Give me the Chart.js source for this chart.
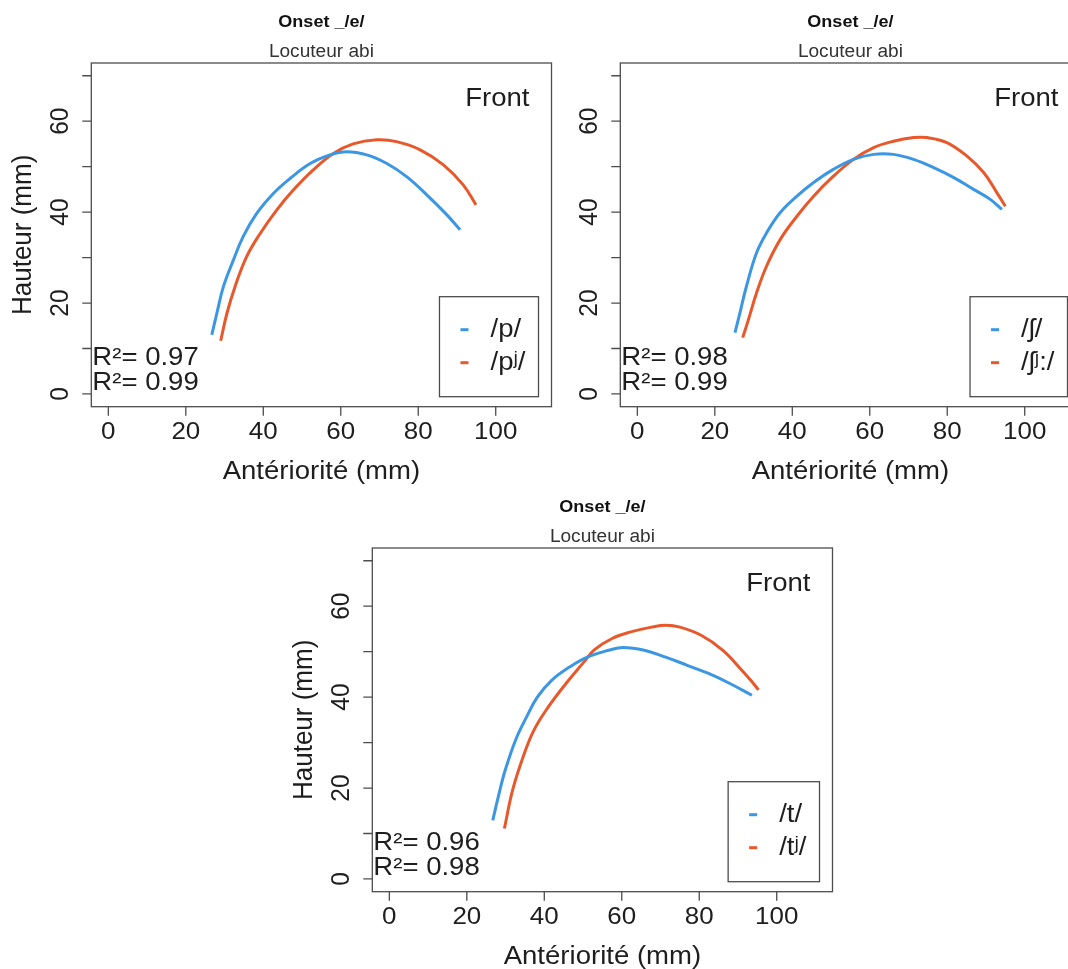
<!DOCTYPE html>
<html>
<head>
<meta charset="utf-8">
<title>Onset _/e/ - Locuteur abi</title>
<script src="https://cdn.jsdelivr.net/npm/chart.js@4.4.0/dist/chart.umd.min.js"></script>
<style>
  html, body { margin: 0; padding: 0; background: #fff; overflow: hidden; width: 1068px; height: 969px; }
  canvas { position: absolute; }
</style>
</head>
<body>
<canvas id="chartP" width="560" height="485" style="left:0;top:0"></canvas>
<canvas id="chartSh" width="560" height="485" style="left:529px;top:0"></canvas>
<canvas id="chartT" width="560" height="485" style="left:281px;top:485px"></canvas>
<script>
// texts + ticks
const titleText = 'Onset _/e/';
const subText = 'Locuteur abi';
const xTitle = 'Antériorité (mm)';
const yTitle = 'Hauteur (mm)';
const xTicks = [0, 20, 40, 60, 80, 100];
const yTicks = [0, 10, 20, 30, 40, 50, 60, 70];
const yLabels = [0, 20, 40, 60];

// /p/ vs /pʲ/
const pBlueX = [26.7, 28.0, 29.7, 32.3, 34.8, 38.3, 42.6, 46.9, 52.1, 57.2, 61.5, 66.7, 71.9, 77.0, 82.2, 87.4, 90.8];
const pBlueY = [13.0, 17.7, 23.6, 29.5, 34.6, 39.7, 44.1, 47.4, 50.7, 52.6, 53.3, 52.6, 50.7, 47.8, 43.8, 39.4, 36.1];
const pRedX = [29.0, 30.6, 32.7, 35.7, 39.2, 43.5, 47.8, 52.9, 58.1, 63.2, 69.3, 74.4, 80.5, 86.5, 91.6, 94.9];
const pRedY = [11.7, 17.7, 23.6, 30.2, 35.3, 40.5, 44.9, 49.3, 52.9, 55.0, 55.9, 55.5, 53.7, 50.4, 46.0, 41.6];

// /ʃ/ vs /ʃʲ:/
const shBlueX = [25.2, 26.5, 28.2, 30.8, 33.4, 36.9, 41.2, 45.5, 50.6, 55.8, 61.0, 66.1, 71.3, 76.5, 81.7, 86.8, 91.1, 94.1];
const shBlueY = [13.5, 17.9, 23.8, 31.1, 35.5, 39.9, 43.5, 46.5, 49.4, 51.6, 52.7, 52.7, 51.6, 49.8, 47.6, 45.0, 42.8, 40.6];
const shRedX = [27.2, 28.7, 30.8, 33.4, 36.9, 41.2, 45.5, 50.6, 55.8, 61.0, 66.1, 71.3, 74.8, 79.9, 85.1, 89.4, 92.8, 95.0];
const shRedY = [12.4, 16.4, 22.3, 28.2, 34.0, 39.1, 43.5, 47.9, 51.6, 54.2, 55.6, 56.4, 56.4, 55.3, 52.3, 48.7, 44.3, 41.3];

// /t/ vs /tʲ/
const tBlueX = [26.7, 28.1, 29.9, 32.7, 35.4, 38.2, 41.9, 46.5, 51.1, 56.6, 60.3, 65.8, 71.3, 76.9, 82.4, 87.9, 93.6];
const tBlueY = [12.9, 18.0, 23.9, 30.8, 35.6, 40.0, 43.7, 46.6, 48.8, 50.3, 50.9, 50.3, 48.8, 47.0, 45.2, 43.0, 40.4];
const tRedX = [29.7, 31.8, 34.5, 37.3, 41.0, 45.6, 50.2, 52.9, 57.5, 62.1, 67.7, 71.4, 75.0, 80.5, 86.1, 90.7, 93.4, 95.3];
const tRedY = [11.1, 19.5, 26.8, 32.7, 37.8, 43.0, 47.7, 50.4, 52.9, 54.3, 55.4, 55.8, 55.4, 53.6, 50.3, 46.2, 43.6, 41.6];

const blue = '#3b97e3';
const red = '#e8582a';
const FONT = '"Liberation Sans", Arial, "DejaVu Sans", sans-serif';
const SX = 1.06; // the source picture is a bit wider than tall

function txt(ctx, s, x, y, size, o) {
  o = o || {};
  ctx.save();
  ctx.translate(x, y);
  ctx.scale(SX, 1);
  if (o.rot) ctx.rotate(o.rot);
  ctx.font = (o.bold ? 'bold ' : '') + size + 'px ' + FONT;
  ctx.fillStyle = o.color || '#1e1e1e';
  ctx.textAlign = o.align || 'center';
  ctx.textBaseline = 'middle';
  ctx.fillText(s, 0, 0);
  ctx.restore();
}

const rPlot = {
  id: 'rplot',
  afterDraw(chart, args, o) {
    const ctx = chart.ctx, a = chart.chartArea;
    const xs = chart.scales.x, ys = chart.scales.y;
    ctx.save();
    ctx.strokeStyle = '#4d4d4d';
    ctx.lineWidth = 1.3;
    ctx.strokeRect(a.left, a.top, a.right - a.left, a.bottom - a.top);
    ctx.beginPath();
    xTicks.forEach(v => {
      const px = xs.getPixelForValue(v);
      ctx.moveTo(px, a.bottom); ctx.lineTo(px, a.bottom + 9);
    });
    yTicks.forEach(v => {
      const py = ys.getPixelForValue(v);
      ctx.moveTo(a.left, py); ctx.lineTo(a.left - 9, py);
    });
    ctx.stroke();

    xTicks.forEach(v => txt(ctx, String(v), xs.getPixelForValue(v), a.bottom + 26, 24.5));
    yLabels.forEach(v => txt(ctx, String(v), a.left - 30, ys.getPixelForValue(v), 24.5, { rot: -Math.PI / 2 }));

    const cx = (a.left + a.right) / 2;
    txt(ctx, xTitle, cx, a.bottom + 65, 26);
    if (o.yTitle) txt(ctx, yTitle, a.left - 68, (a.top + a.bottom) / 2, 26, { rot: -Math.PI / 2 });
    txt(ctx, titleText, cx, a.top - 40.5, 17, { bold: true, color: '#111' });
    txt(ctx, subText, cx, a.top - 11, 18, { color: '#333' });
    txt(ctx, 'Front', a.right - 22, a.top + 36, 26, { align: 'right' });

    o.r2.forEach((r, i) => txt(ctx, 'R²= ' + r, a.left + 1, a.bottom - 49 + i * 25, 26, { align: 'left' }));

    // legend box, bottom right
    ctx.font = '26px ' + FONT;
    const maxW = Math.max(...o.labels.map(s => ctx.measureText(s).width)) * SX;
    const right = a.right - 13, bottom = a.bottom - 10;
    const left = right - (51 + maxW + 13), top = bottom - 100;
    ctx.strokeStyle = '#4d4d4d';
    ctx.lineWidth = 1.3;
    ctx.strokeRect(left, top, right - left, bottom - top);
    [blue, red].forEach((c, i) => {
      const y = top + 33 + i * 33;
      ctx.fillStyle = c;
      ctx.fillRect(left + 21, y - 1.5, 8, 3);
      txt(ctx, o.labels[i], left + 51, y, 26, { align: 'left' });
    });
    ctx.restore();
  }
};

function pts(xs, ys) {
  return xs.map((x, i) => ({ x: x, y: ys[i] }));
}

function makeChart(id, bx, by, rx, ry, labels, r2, showY) {
  const ctx = document.getElementById(id).getContext('2d');
  return new Chart(ctx, {
    type: 'line',
    data: {
      datasets: [
        { label: labels[0], data: pts(bx, by), borderColor: blue, borderWidth: 3, pointRadius: 0, tension: 0.4 },
        { label: labels[1], data: pts(rx, ry), borderColor: red, borderWidth: 3, pointRadius: 0, tension: 0.4 },
      ],
    },
    options: {
      responsive: false,
      animation: false,
      devicePixelRatio: 1,
      layout: { padding: { left: 91.3, top: 63, right: 8.5, bottom: 78.3 } },
      scales: {
        x: { type: 'linear', min: -4.4, max: 114.4, display: false },
        y: { type: 'linear', min: -2.8, max: 72.8, display: false },
      },
      plugins: {
        legend: { display: false },
        tooltip: { enabled: false },
        rplot: { labels: labels, r2: r2, yTitle: showY },
      },
    },
    plugins: [rPlot],
  });
}

makeChart('chartP', pBlueX, pBlueY, pRedX, pRedY, ['/p/', '/pʲ/'], ['0.97', '0.99'], true);
makeChart('chartSh', shBlueX, shBlueY, shRedX, shRedY, ['/ʃ/', '/ʃʲ:/'], ['0.98', '0.99'], false);
makeChart('chartT', tBlueX, tBlueY, tRedX, tRedY, ['/t/', '/tʲ/'], ['0.96', '0.98'], true);
</script>
</body>
</html>
